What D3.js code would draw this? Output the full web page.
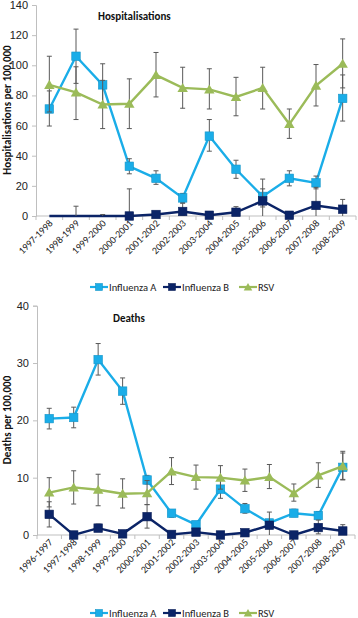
<!DOCTYPE html>
<html>
<head>
<meta charset="utf-8">
<script src="https://cdn.jsdelivr.net/npm/d3@7"></script>
<style>
  body { margin: 0; background: #fff; }
  svg { display: block; font-family: Carlito, Lato, "Open Sans", sans-serif; }
</style>
</head>
<body>
<svg id="chart" width="358" height="618"></svg>
<script>
const fluAColor = "#1AADE8";
const fluBColor = "#0B2467";
const rsvColor = "#9BBB59";
const errColor = "#595959";
const axisColor = "#BFBFBF";

// Hospitalisations panel
const hospYears = ["1997-1998", "1998-1999", "1999-2000", "2000-2001", "2001-2002", "2002-2003",
  "2003-2004", "2004-2005", "2005-2006", "2006-2007", "2007-2008", "2008-2009"];
const hospFluA = [71, 106, 87, 33, 25, 12, 53, 31, 13, 25, 22, 78];
const hospFluALow = [59.7, 88, 73, 28, 21, 9, 43, 25, 6, 20, 18, 63];
const hospFluAHigh = [83, 124, 101, 38, 30, 15, 64, 37, 24.5, 30, 26.5, 93.6];
const hospFluB = [0, 0, 0, 0, 1, 3, 0.5, 2.5, 10, 0.5, 7, 4.5];
const hospFluBLow = [0, 0, 0, 0, 0, 0.5, 0, 0.5, 0, 0, 0, 0];
const hospFluBHigh = [0, 6.5, 1, 18, 2, 8.4, 1, 6.2, 18, 1, 19, 11];
const hospFluBMarkerFrom = 3; // no markers drawn on the first three seasons
const hospRSV = [87, 82, 74, 74.5, 93.5, 85, 84, 79, 85, 61, 86.5, 101];
const hospRSVLow = [69, 64, 58, 58, 79, 71.5, 71, 66.5, 71, 51.5, 73, 85];
const hospRSVHigh = [106, 99, 90, 91, 108.5, 98.7, 97.7, 92, 98.7, 71, 100.5, 117.5];
const hospTicks = [0, 20, 40, 60, 80, 100, 120, 140];

// Deaths panel
const deathYears = ["1996-1997", "1997-1998", "1998-1999", "1999-2000", "2000-2001", "2001-2002", "2002-2003",
  "2003-2004", "2004-2005", "2005-2006", "2006-2007", "2007-2008", "2008-2009"];
const deathFluA = [20.3, 20.5, 30.6, 25.1, 9.6, 3.8, 1.8, 8.0, 4.6, 2.1, 3.8, 3.4, 11.8];
const deathFluALow = [18.5, 18.7, 27.9, 22.8, 8.9, 3.1, 1.3, 6.4, 3.8, 1.6, 3.2, 2.8, 9.7];
const deathFluAHigh = [22.1, 22.3, 33.4, 27.4, 10.4, 4.4, 2.3, 9.6, 5.5, 2.7, 4.5, 4.1, 14.3];
const deathFluB = [3.6, 0, 1.2, 0.2, 3.2, 0.1, 0.5, 0, 0.4, 1.7, 0, 1.3, 0.7];
const deathFluBLow = [1.4, 0, 0.6, 0, 1.2, 0, 0.2, 0, 0.1, 0, 0, 0.2, 0];
const deathFluBHigh = [5.8, 0, 1.9, 0.4, 5.3, 0.3, 0.9, 0.1, 0.8, 4.0, 0.1, 2.6, 1.8];
const deathRSV = [7.4, 8.3, 7.9, 7.2, 7.3, 11.1, 10.1, 10.0, 9.5, 10.1, 7.3, 10.4, 12.0];
const deathRSVLow = [4.9, 5.4, 5.1, 4.7, 5.3, 8.8, 8.0, 8.0, 7.6, 8.1, 5.9, 8.3, 9.6];
const deathRSVHigh = [10.0, 11.2, 10.6, 9.8, 9.5, 13.5, 12.2, 12.1, 11.5, 12.3, 8.9, 12.6, 14.6];
const deathTicks = [0, 10, 20, 30, 40];

const legendNames = ["Influenza A", "Influenza B", "RSV"];

const svg = d3.select("#chart");

const marker = (g, shape, color, x, y, size = 8.5) => {
  if (shape === "square") {
    g.append("rect").attr("x", x - size / 2).attr("y", y - size / 2).attr("width", size).attr("height", size)
      .attr("fill", color).attr("stroke", d3.color(color).darker(0.4)).attr("stroke-width", 0.6);
  } else {
    g.append("path").attr("d", d3.symbol(d3.symbolTriangle, size * size * 0.65)())
      .attr("transform", `translate(${x},${y + 1})`).attr("fill", color);
  }
};

const drawPanel = (opt) => {
  const g = svg.append("g");
  const x = d3.scaleBand().domain(opt.years).range(opt.xRange);
  const y = d3.scaleLinear().domain([0, opt.yMax]).range(opt.yRange);
  const cx = d => x(d) + x.bandwidth() / 2;

  // y axis
  const yAxis = g.append("g").attr("transform", `translate(${opt.xRange[0]},0)`)
    .call(d3.axisLeft(y).tickValues(opt.ticks).tickSize(4).tickPadding(4));
  yAxis.selectAll("line, path").attr("stroke", axisColor);
  yAxis.selectAll("text").attr("font-size", 11).attr("fill", "#222").style("font-family", "inherit");

  // x axis with tick marks between categories
  const xAxisG = g.append("g").attr("transform", `translate(0,${opt.yRange[0]})`);
  xAxisG.append("line").attr("x1", opt.xRange[0]).attr("x2", opt.xRange[1]).attr("stroke", axisColor);
  xAxisG.selectAll(".xt").data(opt.years.concat(["end"])).enter().append("line")
    .attr("x1", (d, i) => i < opt.years.length ? x(d) : opt.xRange[1])
    .attr("x2", (d, i) => i < opt.years.length ? x(d) : opt.xRange[1])
    .attr("y1", 0).attr("y2", 4).attr("stroke", axisColor);
  xAxisG.selectAll(".xl").data(opt.years).enter().append("text")
    .attr("transform", d => `translate(${cx(d) + 4},${8}) rotate(-45)`)
    .attr("text-anchor", "end").attr("font-size", 10).attr("fill", "#222").text(d => d);

  // titles
  g.append("text").attr("x", opt.titleX).attr("y", opt.titleY).attr("font-size", 11)
    .attr("font-weight", "bold").attr("fill", "#111").text(opt.title);
  g.append("text").attr("transform", `translate(11,${opt.yLabelY}) rotate(-90)`)
    .attr("text-anchor", "middle").attr("font-size", 11).attr("font-weight", "bold")
    .attr("fill", "#111").text(opt.yLabel);

  opt.series.forEach(s => {
    const pts = opt.years.map((yr, i) => ({ yr, v: s.values[i], lo: s.low[i], hi: s.high[i], i }));
    const sg = g.append("g");
    sg.append("path").datum(pts)
      .attr("d", d3.line().x(d => cx(d.yr)).y(d => y(d.v)))
      .attr("fill", "none").attr("stroke", s.color).attr("stroke-width", 2.4);
    pts.forEach(d => {
      if (d.hi > d.lo) {
        const px = cx(d.yr);
        sg.append("line").attr("x1", px).attr("x2", px).attr("y1", y(d.lo)).attr("y2", y(d.hi))
          .attr("stroke", errColor).attr("stroke-width", 1);
        [d.lo, d.hi].forEach(v => {
          if (v > 0) sg.append("line").attr("x1", px - 2.5).attr("x2", px + 2.5)
            .attr("y1", y(v)).attr("y2", y(v)).attr("stroke", errColor).attr("stroke-width", 1);
        });
      }
    });
    pts.forEach(d => {
      if (d.i >= (s.markerFrom || 0)) marker(sg, s.shape, s.color, cx(d.yr), y(d.v));
    });
  });

  // legend
  const lg = g.append("g").attr("transform", `translate(0,${opt.legendY})`);
  const legendX = [90, 163, 239];
  opt.series.forEach((s, i) => {
    const lx = legendX[i];
    lg.append("line").attr("x1", lx).attr("x2", lx + 18).attr("stroke", s.color).attr("stroke-width", 2.2);
    marker(lg, s.shape, s.color, lx + 9, 0, 7);
    lg.append("text").attr("x", lx + 19).attr("y", 3.5).attr("font-size", 10.5).attr("fill", "#222")
      .text(legendNames[i]);
  });
};

drawPanel({
  years: hospYears, xRange: [36, 356], yRange: [216, 5], yMax: 140, ticks: hospTicks,
  title: "Hospitalisations", titleX: 98, titleY: 20,
  yLabel: "Hospitalisations per 100,000", yLabelY: 110, legendY: 287,
  series: [
    { values: hospFluA, low: hospFluALow, high: hospFluAHigh, color: fluAColor, shape: "square" },
    { values: hospFluB, low: hospFluBLow, high: hospFluBHigh, color: fluBColor, shape: "square", markerFrom: hospFluBMarkerFrom },
    { values: hospRSV, low: hospRSVLow, high: hospRSVHigh, color: rsvColor, shape: "triangle" }
  ]
});

drawPanel({
  years: deathYears, xRange: [37, 355], yRange: [535, 305.7], yMax: 40, ticks: deathTicks,
  title: "Deaths", titleX: 113, titleY: 322,
  yLabel: "Deaths per 100,000", yLabelY: 420, legendY: 613,
  series: [
    { values: deathFluA, low: deathFluALow, high: deathFluAHigh, color: fluAColor, shape: "square" },
    { values: deathFluB, low: deathFluBLow, high: deathFluBHigh, color: fluBColor, shape: "square" },
    { values: deathRSV, low: deathRSVLow, high: deathRSVHigh, color: rsvColor, shape: "triangle" }
  ]
});
</script>
</body>
</html>
